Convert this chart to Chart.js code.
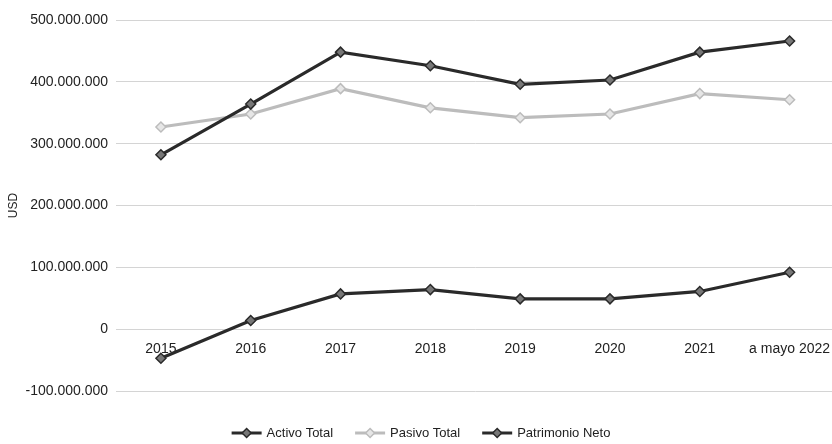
<!DOCTYPE html>
<html>
<head>
<meta charset="utf-8">
<script src="https://cdn.jsdelivr.net/npm/chart.js@4/dist/chart.umd.min.js"></script>
<style>
  html, body { margin: 0; padding: 0; background: #fff; overflow: hidden; }
  #wrap { width: 832px; height: 444px; overflow: hidden; }
</style>
</head>
<body>
<div id="wrap"><canvas id="balanceChart" width="841" height="444"></canvas></div>
<script>
// Data (USD)
const years = ['2015', '2016', '2017', '2018', '2019', '2020', '2021', 'a mayo 2022'];
const activoTotal = [282000000, 364000000, 448000000, 426000000, 396000000, 403000000, 448000000, 466000000];
const pasivoTotal = [327000000, 348000000, 389000000, 358000000, 342000000, 348000000, 381000000, 371000000];
const patrimonioNeto = [-47000000, 14000000, 57000000, 64000000, 49000000, 49000000, 61000000, 92000000];
const yTickLabels = ['-100.000.000', '0', '100.000.000', '200.000.000', '300.000.000', '400.000.000', '500.000.000'];

const DARK = '#2a2a2a';
const LIGHT = '#bcbcbc';
const FONT = "'Liberation Sans', sans-serif";

function drawSwatch(g, x, y, color, fill) {
    g.save();
    g.strokeStyle = color;
    g.lineWidth = 3;
    g.beginPath(); g.moveTo(x, y); g.lineTo(x + 30, y); g.stroke();
    g.fillStyle = fill;
    g.lineWidth = 1.5;
    g.beginPath();
    g.moveTo(x + 15, y - 4.5); g.lineTo(x + 19.5, y); g.lineTo(x + 15, y + 4.5); g.lineTo(x + 10.5, y);
    g.closePath();
    g.fill(); g.stroke();
    g.restore();
}

// bottom legend: line + diamond, then the series name
const bottomLegend = {
    id: 'bottomLegend',
    afterDraw(chart) {
        const g = chart.ctx;
        const sets = chart.data.datasets;
        const swatchW = 30, gapText = 5, gapItem = 22;
        g.save();
        g.font = '13px ' + FONT;
        g.textBaseline = 'middle';
        const widths = sets.map(ds => swatchW + gapText + g.measureText(ds.label).width);
        const total = widths.reduce((a, b) => a + b, 0) + gapItem * (sets.length - 1);
        let x = 421 - total / 2;
        const y = 433;
        sets.forEach((ds, i) => {
            drawSwatch(g, x, y, ds.borderColor, ds.pointBackgroundColor);
            g.fillStyle = '#222';
            g.fillText(ds.label, x + swatchW + gapText, y);
            x += widths[i] + gapItem;
        });
        g.restore();
    }
};

function series(label, data, color, fill) {
    return {
        label: label,
        data: data,
        borderColor: color,
        backgroundColor: color,
        borderWidth: 3.2,
        tension: 0,
        pointStyle: 'rectRot',
        pointRadius: 5,
        pointBackgroundColor: fill,
        pointBorderColor: color,
        pointBorderWidth: 1.5
    };
}

const ctx = document.getElementById('balanceChart').getContext('2d');
new Chart(ctx, {
    type: 'line',
    data: {
        labels: years,
        datasets: [
            series('Activo Total', activoTotal, DARK, '#777'),
            series('Pasivo Total', pasivoTotal, LIGHT, '#e6e6e6'),
            series('Patrimonio Neto', patrimonioNeto, DARK, '#777')
        ]
    },
    plugins: [bottomLegend],
    options: {
        responsive: false,
        animation: false,
        layout: { padding: { top: 20, right: 0, bottom: 53, left: 0 } },
        plugins: {
            tooltip: { enabled: false },
            legend: { display: false }
        },
        scales: {
            x: {
                position: { y: 0 },
                offset: true,
                grid: { display: false },
                border: { display: false },
                ticks: {
                    color: '#222',
                    font: { family: FONT, size: 14 },
                    padding: 4,
                    maxRotation: 0,
                    autoSkip: false
                }
            },
            y: {
                min: -100000000,
                max: 500000000,
                afterFit(scale) { scale.width = 116; },
                title: {
                    display: true,
                    text: 'USD',
                    color: '#222',
                    font: { family: FONT, size: 12 },
                    padding: { top: 6, bottom: 0 }
                },
                border: { display: false },
                grid: {
                    color: '#d4d4d4',
                    lineWidth: 1,
                    drawTicks: false
                },
                ticks: {
                    stepSize: 100000000,
                    color: '#222',
                    font: { family: FONT, size: 14 },
                    padding: 8,
                    callback: (value, index) => yTickLabels[index]
                }
            }
        }
    }
});
</script>
</body>
</html>
